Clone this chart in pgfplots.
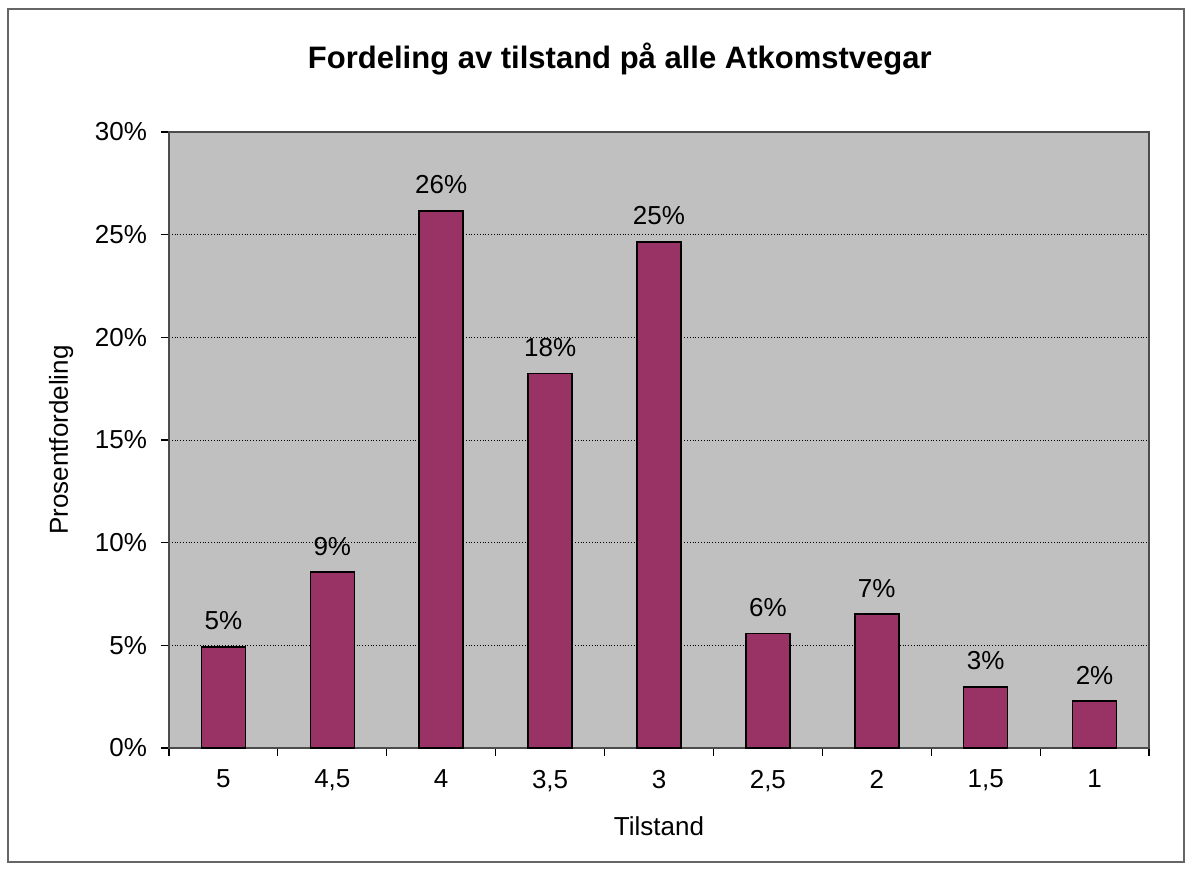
\documentclass[border=0pt]{standalone}
\usepackage{pgfplots}
\pgfplotsset{compat=1.18}
\usepackage{fontspec}
\setmainfont{Liberation Sans}
\definecolor{barfill}{HTML}{993366}
\definecolor{plotbg}{HTML}{C0C0C0}

\begin{document}
\begin{tikzpicture}
% page size: 1192 x 872 px at 0.5pt per px, axis box SW at pixel (169,748)
\path (-84.5pt,-62pt) rectangle (511.5pt,374pt);
\draw[black!60, line width=0.8pt] (-80.5pt,-57pt) rectangle (507.5pt,369.5pt);
\begin{axis}[
    at={(0,0)}, anchor=south west,
    scale only axis,
    width=490pt, height=308pt,
    font=\fontsize{13}{15}\selectfont,
    /pgf/number format/assume math mode=true,
    axis background/.style={fill=plotbg},
    axis line style={black!70, line width=0.6pt},
    ybar, bar width=22pt,
    xmin=-0.5, xmax=8.5,
    ymin=0, ymax=30,
    xtick={-0.5,0.5,...,8.5},
    x tick label as interval,
    xticklabels={5,{4,5},4,{3,5},3,{2,5},2,{1,5},1},
    xticklabel style={yshift=-3.5pt},
    ytick={0,5,...,30},
    yticklabels={0\%,5\%,10\%,15\%,20\%,25\%,30\%},
    yticklabel style={xshift=-3.5pt},
    xtick pos=bottom, ytick pos=left,
    tick align=outside,
    major tick length=4pt,
    tick style={black, line width=0.6pt},
    ymajorgrids,
    major grid style={black, densely dotted, line width=0.4pt},
    title={Fordeling av tilstand på alle Atkomstvegar},
    title style={font=\fontsize{15.5}{18}\selectfont\bfseries, at={(axis description cs:0.46,1.099)}, anchor=center},
    xlabel={Tilstand},
    xlabel style={at={(axis description cs:0.5,-0.127)}, anchor=center},
    ylabel={Prosentfordeling},
    ylabel style={at={(axis description cs:-0.110,0.5)}, anchor=center},
    nodes near coords={\pgfmathprintnumber[fixed,precision=0]{\pgfplotspointmeta}\%},
    nodes near coords style={anchor=south, inner sep=0pt, yshift=8pt, font=\fontsize{13}{15}\selectfont},
]
\addplot[fill=barfill, draw=black, line width=0.8pt] coordinates {
    (0,4.93) (1,8.56) (2,26.15) (3,18.23) (4,24.65) (5,5.58) (6,6.52) (7,2.97) (8,2.29)
};
\end{axis}
\end{tikzpicture}
\end{document}
